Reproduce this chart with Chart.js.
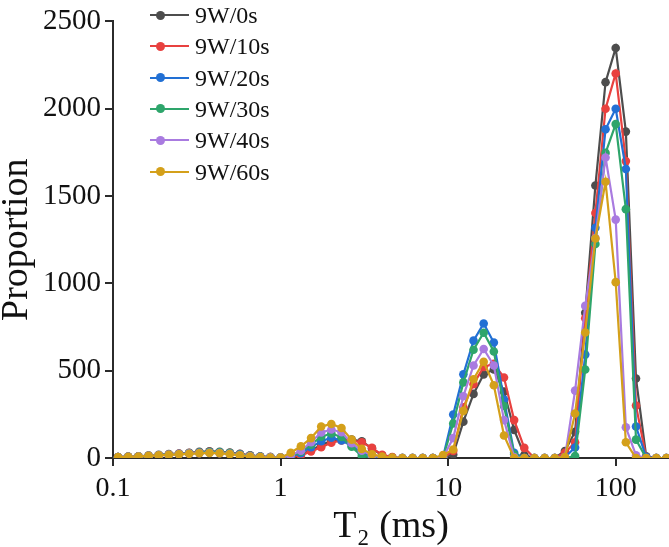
<!DOCTYPE html>
<html>
<head>
<meta charset="utf-8">
<script src="https://cdn.jsdelivr.net/npm/chart.js@4.4.1/dist/chart.umd.min.js"></script>
<style>
html, body { margin: 0; padding: 0; background: #fff; }
#wrap { position: relative; width: 669px; height: 547px; }
#legend { position: absolute; left: 0; top: 0; font-family: 'Liberation Serif', 'Times New Roman', serif; font-size: 24px; color: #111; }
.lgLine { position: absolute; height: 2px; }
.lgDot { position: absolute; width: 9px; height: 9px; border-radius: 50%; }
.lgText { position: absolute; line-height: 30px; white-space: nowrap; }
</style>
</head>
<body>
<div id="wrap">
  <canvas id="myChart" width="669" height="547"></canvas>
  <div id="legend"></div>
</div>
<script>
// T2 relaxation grid (ms), one point per inversion bin
const t2 = [
  0.1072, 0.1233, 0.1418, 0.1630, 0.1874, 0.2154, 0.2477, 0.2848, 0.3275, 0.3765,
  0.4329, 0.4977, 0.5722, 0.6579, 0.7565, 0.8698, 1.0000, 1.1498, 1.3219, 1.5199,
  1.7475, 2.0092, 2.3101, 2.6561, 3.0539, 3.5112, 4.0370, 4.6416, 5.3367, 6.1359,
  7.0548, 8.1113, 9.3260, 10.723, 12.328, 14.175, 16.298, 18.738, 21.544, 24.771,
  28.480, 32.745, 37.649, 43.288, 49.770, 57.224, 65.793, 75.646, 86.975, 100.00,
  114.98, 132.19, 151.99, 174.75, 200.92
];

const seriesNames = ['9W/0s', '9W/10s', '9W/20s', '9W/30s', '9W/40s', '9W/60s'];
const seriesColors = ['#4d4d4d', '#e8413f', '#2270d4', '#2ea56b', '#a97be0', '#d4a01a'];

const w0s = [
  6, 8, 10, 14, 18, 22, 26, 30, 35, 38, 36, 31, 24, 15, 9, 5, 3,
  5, 18, 45, 75, 98, 108, 105, 95, 55, 15, 4,
  0, 0, 0, 0,
  0, 20, 208, 367, 479, 507, 380, 161, 17, 0,
  0, 0,
  40, 150, 831, 1560, 2152, 2348, 1869, 455, 10,
  0, 0
];
const w10s = [
  5, 7, 9, 12, 16, 20, 24, 28, 32, 35, 33, 28, 22, 14, 8, 5, 3,
  5, 15, 38, 62, 88, 100, 100, 90, 58, 18, 5,
  0, 0, 0, 0,
  2, 40, 290, 423, 521, 540, 461, 217, 58, 0,
  0, 0,
  30, 90, 800, 1403, 2000, 2202, 1700, 300, 5,
  0, 0
];
const w20s = [
  5, 7, 9, 12, 16, 19, 23, 27, 31, 34, 32, 27, 21, 13, 8, 5, 3,
  8, 28, 62, 96, 116, 100, 70, 28, 8, 2, 0,
  0, 0, 0, 0,
  5, 249, 479, 672, 770, 661, 335, 30, 0, 0,
  0, 0,
  5, 60, 592, 1318, 1882, 2000, 1655, 180, 5,
  0, 0
];
const w30s = [
  5, 7, 9, 12, 16, 19, 23, 27, 31, 34, 33, 28, 20, 12, 7, 4, 2,
  10, 36, 76, 122, 140, 120, 64, 12, 3, 0, 0,
  0, 0, 0, 0,
  3, 198, 433, 620, 717, 610, 298, 20, 0, 0,
  0, 0,
  0, 11, 507, 1225, 1747, 1912, 1425, 105, 0,
  0, 0
];
const w40s = [
  5, 7, 9, 12, 15, 18, 22, 25, 28, 30, 28, 24, 17, 10, 6, 4, 2,
  15, 42, 90, 146, 163, 148, 85, 42, 14, 4, 0,
  0, 0, 0, 0,
  3, 114, 354, 530, 624, 530, 217, 5, 0, 0,
  0, 0,
  5, 386, 871, 1260, 1721, 1365, 176, 15, 0,
  0, 0
];
const w60s = [
  5, 7, 9, 12, 15, 18, 21, 24, 27, 29, 27, 22, 15, 9, 5, 3, 2,
  30, 67, 114, 180, 195, 172, 105, 52, 21, 8, 3,
  0, 0, 0, 0,
  17, 49, 270, 451, 551, 417, 129, 0, 0, 0,
  0, 0,
  5, 255, 719, 1257, 1582, 1007, 90, 0, 0,
  0, 0
];
const seriesValues = [w0s, w10s, w20s, w30s, w40s, w60s];

const xTicks = [0.1, 1, 10, 100];
const yTicks = [0, 500, 1000, 1500, 2000, 2500];

const serif = "'Liberation Serif', 'Times New Roman', serif";
const axisColor = '#2b2b2b';

const datasets = seriesValues.map((vals, k) => ({
  label: seriesNames[k],
  data: vals.map((v, i) => ({x: t2[i], y: v})),
  borderColor: seriesColors[k],
  backgroundColor: seriesColors[k],
  pointBackgroundColor: seriesColors[k],
  pointBorderWidth: 0,
  pointRadius: 4.3,
  borderWidth: 2.2,
  tension: 0,
  // last series ends up on top, like the original plot
  order: seriesValues.length - 1 - k
}));

new Chart('myChart', {
  type: 'line',
  data: {datasets: datasets},
  options: {
    responsive: false,
    animation: false,
    devicePixelRatio: 1,
    layout: {autoPadding: false, padding: {top: 12, right: 0, left: 0, bottom: 0}},
    plugins: {legend: {display: false}, tooltip: {enabled: false}},
    scales: {
      x: {
        type: 'logarithmic',
        min: 0.1,
        max: 208,
        afterBuildTicks: (s) => { s.ticks = xTicks.map(v => ({value: v})); },
        afterFit: (s) => { s.height = 89; },
        ticks: {
          callback: (v) => String(v),
          font: {family: serif, size: 28},
          color: '#111',
          padding: 6,
          maxRotation: 0,
          autoSkip: false
        },
        grid: {display: true, drawOnChartArea: false, drawTicks: true, tickLength: 8, color: axisColor, lineWidth: 2},
        border: {display: true, color: axisColor, width: 2},
        title: {display: true, text: 'T₂ (ms)', color: '#111', font: {family: serif, size: 38, lineHeight: 1.05}, padding: 0}
      },
      y: {
        min: 0,
        max: 2500,
        afterBuildTicks: (s) => { s.ticks = yTicks.map(v => ({value: v})); },
        afterFit: (s) => { s.width = 113; },
        ticks: {
          callback: (v) => String(v),
          font: {family: serif, size: 29},
          color: '#111',
          padding: 4
        },
        grid: {display: true, drawOnChartArea: false, drawTicks: true, tickLength: 8, color: axisColor, lineWidth: 2},
        border: {display: true, color: axisColor, width: 2},
        title: {display: true, text: 'Proportion', color: '#111', font: {family: serif, size: 38, lineHeight: 0.9}, padding: 0}
      }
    }
  }
});

// legend in the top-left of the plot
const legend = document.getElementById('legend');
seriesNames.forEach((name, k) => {
  const cy = 15 + k * 31.3;
  const line = document.createElement('div');
  line.className = 'lgLine';
  line.style.cssText = `left:150px;width:39px;top:${cy - 1}px;background:${seriesColors[k]}`;
  const dot = document.createElement('div');
  dot.className = 'lgDot';
  dot.style.cssText = `left:156px;top:${cy - 4.5}px;background:${seriesColors[k]}`;
  const txt = document.createElement('div');
  txt.className = 'lgText';
  txt.style.cssText = `left:195px;top:${cy - 15}px`;
  txt.textContent = name;
  legend.append(line, dot, txt);
});
</script>
</body>
</html>
